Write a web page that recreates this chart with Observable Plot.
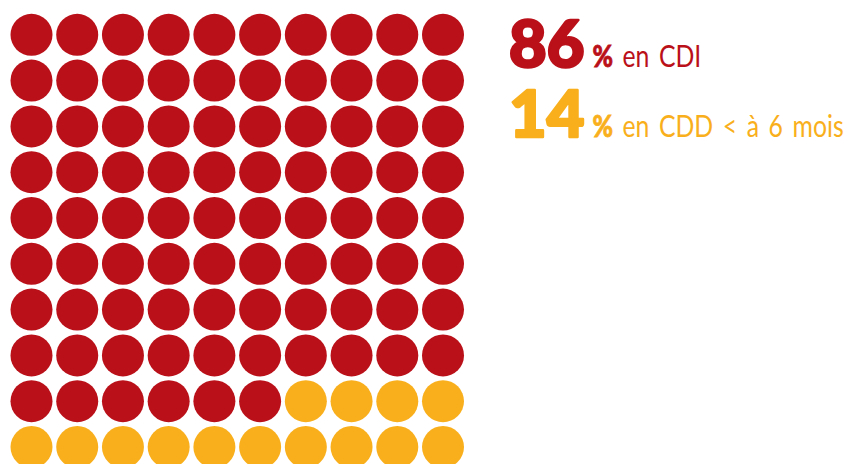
<!DOCTYPE html>
<html><head><meta charset="utf-8">
<script src="https://cdn.jsdelivr.net/npm/d3@7"></script>
<script src="https://cdn.jsdelivr.net/npm/@observablehq/plot@0.6"></script>
<style>html,body{margin:0;padding:0;background:#fff;overflow:hidden} #chart svg{display:block}</style>
</head><body><div id="chart"></div>
<script>
const categories = ["CDI", "CDD < à 6 mois"];
const values = [86, 14];
const labels = ["en CDI", "en CDD < à 6 mois"];
const colors = ["#BA1019", "#F9AF1C"];
const gridCols = 10, gridRows = 10;

const cells = [];
let idx = 0;
categories.forEach((c, k) => {
  for (let n = 0; n < values[k]; n++, idx++) {
    cells.push({col: idx % gridCols, row: Math.floor(idx / gridCols), category: c});
  }
});

const chart = Plot.plot({
  width: 846, height: 464, margin: 0,
  style: {background: "#fff", overflow: "hidden"},
  x: {domain: [0, gridCols - 1], range: [31, 442.5], axis: null},
  y: {domain: [0, gridRows - 1], range: [34.3, 446.5], axis: null},
  color: {domain: categories, range: colors},
  marks: [Plot.dot(cells, {x: "col", y: "row", r: 21, fill: "category"})]
});
document.getElementById("chart").append(chart);

const svg = d3.select(chart);
const baselines = [67, 137];
values.forEach((v, k) => {
  const g = svg.append("g").attr("fill", colors[k]).attr("text-anchor", "start")
    .attr("font-family", "Lato, 'Open Sans', sans-serif");
  const num = g.append("text").attr("x", 509).attr("y", baselines[k])
    .attr("font-size", 65).attr("font-weight", 900)
    .attr("stroke", colors[k]).attr("stroke-width", 2.6).attr("stroke-linejoin", "round")
    .text(v);
  const w = num.node().getComputedTextLength();
  const lab = g.append("text").attr("x", 509 + w + 8).attr("y", baselines[k])
    .attr("font-size", 31).attr("word-spacing", 4);
  lab.append("tspan").attr("font-weight", 900).attr("stroke", colors[k]).attr("stroke-width", 0.8).text("%");
  lab.append("tspan").attr("font-weight", 400).text(" " + labels[k]);
  const lw = lab.node().getComputedTextLength();
  lab.attr("textLength", lw * 0.8).attr("lengthAdjust", "spacingAndGlyphs");
});
</script>
</body></html>
